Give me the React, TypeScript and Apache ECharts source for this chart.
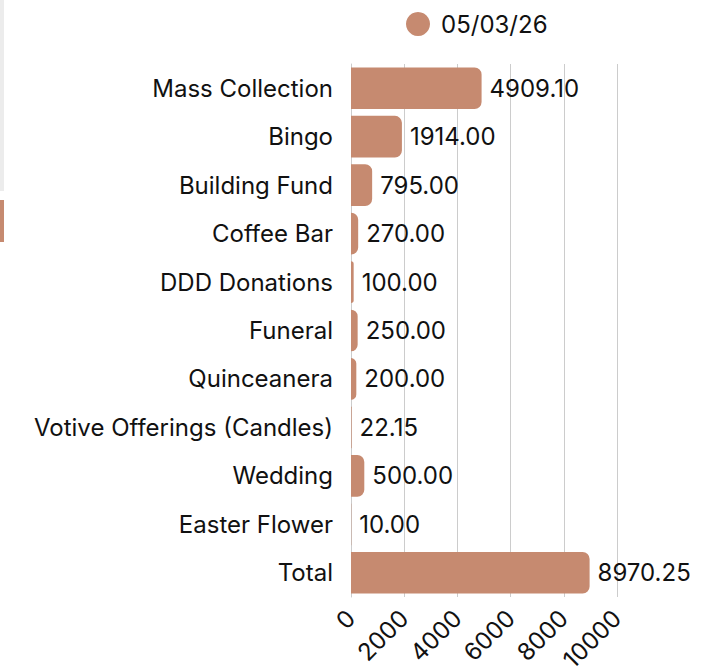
import React, { useEffect, useRef } from "react";
import * as echarts from "echarts";

const categories = [
  "Mass Collection",
  "Bingo",
  "Building Fund",
  "Coffee Bar",
  "DDD Donations",
  "Funeral",
  "Quinceanera",
  "Votive Offerings (Candles)",
  "Wedding",
  "Easter Flower",
  "Total",
];
const values = [4909.1, 1914.0, 795.0, 270.0, 100.0, 250.0, 200.0, 22.15, 500.0, 10.0, 8970.25];
const seriesName = "05/03/26";
const barColor = "#C68A70";
const fontFamily = "Inter, 'Noto Sans', sans-serif";

export default function App() {
  const ref = useRef<HTMLDivElement>(null);
  useEffect(() => {
    if (!ref.current) return;
    const chart = echarts.init(ref.current, undefined, { renderer: "svg" });
    chart.setOption({
      animation: false,
      textStyle: { fontFamily },
      legend: {
        top: 7,
        left: 401,
        icon: "circle",
        itemWidth: 24,
        itemHeight: 24,
        itemGap: 10,
        textStyle: { fontSize: 24, color: "#111", fontFamily, padding: [0, 0, 0, 6] },
        data: [seriesName],
      },
      grid: {
        left: 351,
        right: 89,
        top: 64,
        bottom: 74,
        containLabel: false,
        outerBoundsMode: "none",
      },
      xAxis: {
        type: "value",
        min: 0,
        max: 10000,
        interval: 2000,
        axisLine: { show: false },
        axisTick: { show: false },
        splitLine: { lineStyle: { color: "#cccccc", width: 1 } },
        axisLabel: {
          rotate: 45,
          fontSize: 24,
          color: "#111",
          margin: 17,
          fontFamily,
          formatter: (v: number) => String(v),
        },
      },
      yAxis: {
        type: "category",
        inverse: true,
        data: categories,
        axisLine: { show: true, lineStyle: { color: "#cccccc" } },
        axisTick: { show: false },
        axisLabel: { fontSize: 24, color: "#111", margin: 18, fontFamily },
      },
      series: [
        {
          name: seriesName,
          type: "bar",
          data: values,
          barWidth: "86%",
          itemStyle: { color: barColor, borderRadius: [0, 7, 7, 0] },
          label: {
            show: true,
            position: "right",
            distance: 8,
            fontSize: 24,
            color: "#111",
            fontFamily,
            formatter: (p: any) => Number(p.value).toFixed(2),
          },
        },
      ],
      graphic: [
        { type: "rect", left: 0, top: 0, shape: { width: 4, height: 191 }, style: { fill: "#ececec" } },
        { type: "rect", left: 0, top: 200, shape: { width: 4, height: 42 }, style: { fill: barColor } },
      ],
    });
    return () => chart.dispose();
  }, []);
  return (
    <div
      ref={ref}
      style={{ position: "absolute", left: 0, top: 0, width: 706, height: 671 }}
    />
  );
}
